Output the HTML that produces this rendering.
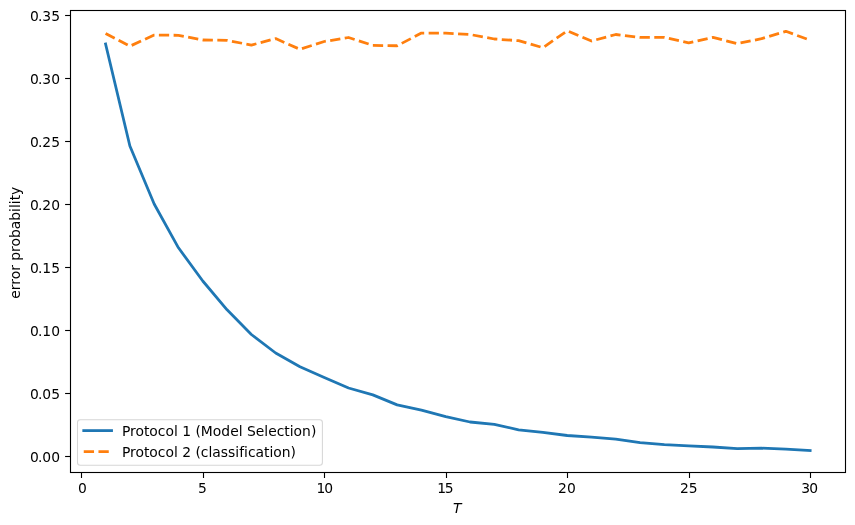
<!DOCTYPE html>
<html><head><meta charset="utf-8"><title>error probability</title>
<style>
html,body{margin:0;padding:0;background:#fff;}
svg{display:block;}
text{font-family:"DejaVu Sans","Liberation Sans",sans-serif;font-size:13.89px;fill:#000;font-variant-ligatures:none;font-feature-settings:"liga" 0,"clig" 0;}
</style></head><body>
<svg width="855" height="525" viewBox="0 0 855 525">
<rect x="0" y="0" width="855" height="525" fill="#ffffff"/>

<g stroke="#000" stroke-width="1.11" fill="none">
<line x1="81.50" y1="472.50" x2="81.50" y2="478.00"/>
<line x1="203.50" y1="472.50" x2="203.50" y2="478.00"/>
<line x1="324.50" y1="472.50" x2="324.50" y2="478.00"/>
<line x1="446.50" y1="472.50" x2="446.50" y2="478.00"/>
<line x1="567.50" y1="472.50" x2="567.50" y2="478.00"/>
<line x1="689.50" y1="472.50" x2="689.50" y2="478.00"/>
<line x1="810.50" y1="472.50" x2="810.50" y2="478.00"/>
<line x1="70.50" y1="456.50" x2="65.10" y2="456.50"/>
<line x1="70.50" y1="393.50" x2="65.10" y2="393.50"/>
<line x1="70.50" y1="330.50" x2="65.10" y2="330.50"/>
<line x1="70.50" y1="267.50" x2="65.10" y2="267.50"/>
<line x1="70.50" y1="204.50" x2="65.10" y2="204.50"/>
<line x1="70.50" y1="141.50" x2="65.10" y2="141.50"/>
<line x1="70.50" y1="78.50" x2="65.10" y2="78.50"/>
<line x1="70.50" y1="15.50" x2="65.10" y2="15.50"/>
</g>
<g text-anchor="middle">
<text x="82.43" y="492.82">0</text>
<text x="202.50" y="492.82">5</text>
<text x="324.78" y="492.82" dx="0 -1.2">10</text>
<text x="445.46" y="492.82" dx="0 -1.3">15</text>
<text x="566.93" y="492.82">20</text>
<text x="688.80" y="492.82">25</text>
<text x="809.63" y="492.82" dx="0 -0.9">30</text>
</g>
<g text-anchor="end">
<text x="60.00" y="461.85" dx="0 -1">0.00</text>
<text x="60.00" y="398.82" dx="0 -1">0.05</text>
<text x="60.00" y="335.79" dx="0 -1">0.10</text>
<text x="60.00" y="272.76" dx="0 -1">0.15</text>
<text x="60.00" y="209.73" dx="0 -1">0.20</text>
<text x="60.00" y="146.70" dx="0 -1">0.25</text>
<text x="60.00" y="83.67" dx="0 -1">0.30</text>
<text x="60.00" y="20.64" dx="0 -1">0.35</text>
</g>
<text x="457.2" y="512.5" text-anchor="middle" font-style="italic">T</text>
<text transform="translate(19.7,242.7) rotate(-90)" text-anchor="middle">error probability</text>
<polyline points="105.59,44.00 129.89,146.00 154.19,204.00 178.48,247.80 202.78,281.00 227.07,309.80 251.37,334.50 275.66,353.00 299.96,366.70 324.25,377.50 348.55,388.00 372.84,394.90 397.14,404.90 421.43,410.10 445.73,416.70 470.02,422.00 494.32,424.40 518.61,429.80 542.90,432.40 567.20,435.50 591.50,437.20 615.79,439.10 640.09,442.60 664.38,444.60 688.67,445.80 712.97,447.00 737.26,448.60 761.56,448.20 785.86,449.10 810.15,450.60" fill="none" stroke="#1f77b4" stroke-width="2.78" stroke-linecap="square" stroke-linejoin="round"/>
<polyline points="105.59,33.40 129.89,46.20 154.19,35.10 178.48,35.30 202.78,40.00 227.07,40.30 251.37,45.10 275.66,38.60 299.96,49.30 324.25,41.50 348.55,37.50 372.84,45.40 397.14,45.75 421.43,33.10 445.73,33.10 470.02,34.50 494.32,39.00 518.61,40.70 542.90,47.70 567.20,30.80 591.50,41.00 615.79,34.50 640.09,37.45 664.38,37.45 688.67,42.90 712.97,37.40 737.26,43.60 761.56,38.70 785.86,31.30 810.15,40.20" fill="none" stroke="#ff7f0e" stroke-width="2.78" stroke-dasharray="10.28 4.44" stroke-linejoin="round"/>
<rect x="70.50" y="10.50" width="775.00" height="462.00" fill="none" stroke="#000" stroke-width="1.11"/>
<rect x="77.5" y="419.75" width="244.9" height="45.5" rx="2.8" ry="2.8" fill="#fff" fill-opacity="0.8" stroke="#cccccc" stroke-opacity="0.8" stroke-width="1.05"/>
<line x1="83.75" y1="430.6" x2="111.55" y2="430.6" stroke="#1f77b4" stroke-width="2.78" stroke-linecap="square"/>
<line x1="83.75" y1="451.65" x2="111.55" y2="451.65" stroke="#ff7f0e" stroke-width="2.78" stroke-dasharray="10.28 4.44"/>
<text x="121.9" y="435.9">Protocol 1 (Model Selection)</text>
<text x="121.9" y="457.0">Protocol 2 (classification)</text>
</svg></body></html>
